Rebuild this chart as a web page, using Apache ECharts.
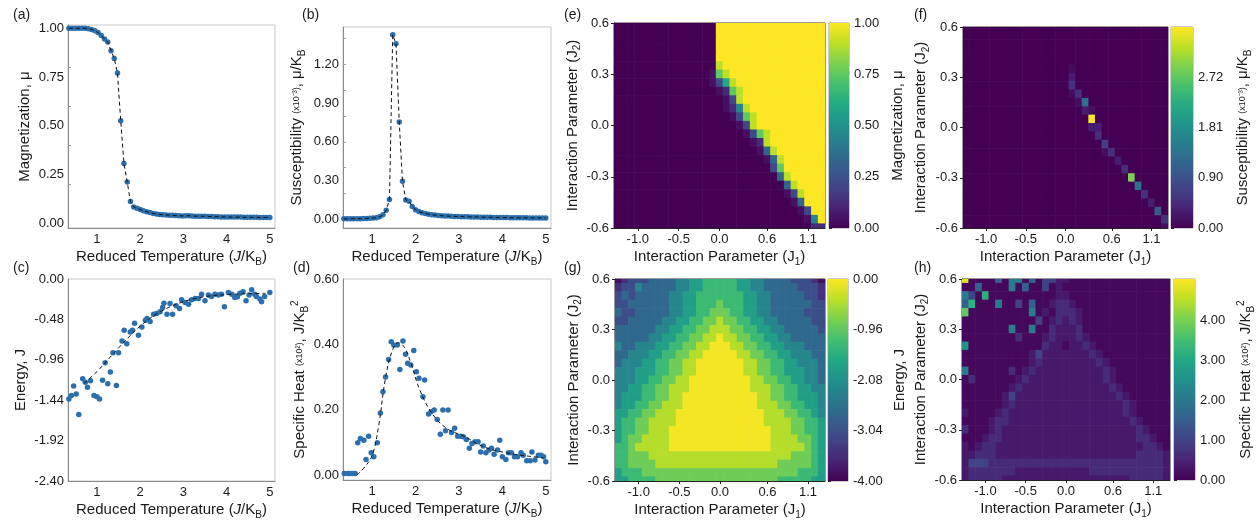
<!DOCTYPE html>
<html>
<head>
<meta charset="utf-8">
<title>Frustrated Ising model: temperature sweeps and (J1, J2) maps</title>
<script src="https://cdn.jsdelivr.net/npm/echarts@6.0.0/dist/echarts.min.js"></script>
<style>
  html, body { margin: 0; padding: 0; background: #ffffff; }
  #chart { width: 1257px; height: 525px; }
</style>
</head>
<body>
<div id="chart"></div>
<script>
// ---------- temperature sweeps, panels (a)-(d) ----------
const temperature = [0.35, 0.425, 0.5, 0.575, 0.65, 0.725, 0.8, 0.875, 0.95, 1.025, 1.1, 1.175, 1.25, 1.325, 1.4, 1.475, 1.55, 1.625, 1.7, 1.775, 1.85, 1.925, 2.0, 2.075, 2.15, 2.225, 2.3, 2.375, 2.45, 2.525, 2.6, 2.675, 2.75, 2.825, 2.9, 2.975, 3.05, 3.125, 3.2, 3.275, 3.35, 3.425, 3.5, 3.575, 3.65, 3.725, 3.8, 3.875, 3.95, 4.025, 4.1, 4.175, 4.25, 4.325, 4.4, 4.475, 4.55, 4.625, 4.7, 4.775, 4.85, 4.925, 5.0];
const magnetization = [1.0, 1.0, 1.0, 1.0, 1.0, 1.0, 0.998, 0.994, 0.988, 0.978, 0.963, 0.945, 0.93, 0.885, 0.845, 0.77, 0.525, 0.305, 0.21, 0.11, 0.082, 0.075, 0.069, 0.063, 0.058, 0.053, 0.049, 0.046, 0.044, 0.042, 0.041, 0.04, 0.039, 0.038, 0.037, 0.036, 0.037, 0.037, 0.036, 0.035, 0.035, 0.034, 0.034, 0.033, 0.033, 0.032, 0.032, 0.031, 0.031, 0.031, 0.03, 0.03, 0.03, 0.03, 0.029, 0.029, 0.029, 0.029, 0.029, 0.028, 0.028, 0.028, 0.028];
const susceptibility = [0.004, 0.004, 0.004, 0.005, 0.005, 0.005, 0.006, 0.007, 0.008, 0.01, 0.013, 0.02, 0.035, 0.07, 0.153, 1.43, 1.36, 0.755, 0.295, 0.15, 0.14, 0.1, 0.075, 0.06, 0.052, 0.046, 0.04, 0.036, 0.033, 0.03, 0.028, 0.026, 0.025, 0.024, 0.023, 0.022, 0.021, 0.02, 0.02, 0.019, 0.018, 0.018, 0.017, 0.017, 0.016, 0.016, 0.015, 0.015, 0.015, 0.014, 0.014, 0.013, 0.013, 0.013, 0.012, 0.012, 0.012, 0.011, 0.011, 0.011, 0.011, 0.01, 0.01];

const energyT = [0.35, 0.41, 0.46, 0.52, 0.58, 0.67, 0.73, 0.78, 0.85, 0.93, 1.0, 1.06, 1.13, 1.19, 1.25, 1.31, 1.37, 1.45, 1.5, 1.58, 1.63, 1.69, 1.77, 1.82, 1.87, 1.96, 2.04, 2.12, 2.16, 2.23, 2.31, 2.38, 2.46, 2.52, 2.55, 2.62, 2.69, 2.75, 2.83, 2.91, 2.96, 3.04, 3.12, 3.19, 3.27, 3.35, 3.42, 3.5, 3.58, 3.65, 3.73, 3.81, 3.88, 3.95, 4.04, 4.12, 4.19, 4.25, 4.31, 4.38, 4.45, 4.52, 4.58, 4.65, 4.69, 4.77, 4.81, 4.88, 5.0];
const energy = [-1.425, -1.385, -1.27, -1.365, -1.61, -1.186, -1.226, -1.285, -1.21, -1.385, -1.4, -1.425, -1.202, -0.995, -1.246, -1.106, -0.876, -1.265, -0.876, -0.736, -0.609, -0.768, -0.629, -0.61, -0.525, -0.669, -0.569, -0.49, -0.47, -0.505, -0.418, -0.41, -0.39, -0.338, -0.287, -0.418, -0.29, -0.418, -0.318, -0.35, -0.247, -0.279, -0.3, -0.247, -0.231, -0.231, -0.18, -0.259, -0.19, -0.207, -0.18, -0.19, -0.18, -0.33, -0.16, -0.18, -0.22, -0.21, -0.17, -0.15, -0.259, -0.19, -0.127, -0.18, -0.207, -0.239, -0.27, -0.207, -0.16];
const energyFitT = [0.7, 1.0, 1.5, 2.0, 2.5, 3.0, 3.5, 4.0, 4.5, 4.9];
const energyFit = [-1.24, -1.1, -0.82, -0.56, -0.38, -0.27, -0.21, -0.185, -0.175, -0.17];

const heatT = [0.36, 0.44, 0.5, 0.55, 0.61, 0.67, 0.73, 0.81, 0.86, 0.92, 0.98, 1.04, 1.12, 1.19, 1.25, 1.31, 1.38, 1.44, 1.5, 1.58, 1.64, 1.71, 1.77, 1.82, 1.89, 1.96, 2.02, 2.08, 2.17, 2.21, 2.3, 2.36, 2.43, 2.5, 2.57, 2.63, 2.69, 2.75, 2.83, 2.9, 2.97, 3.04, 3.1, 3.17, 3.24, 3.3, 3.37, 3.44, 3.5, 3.56, 3.62, 3.69, 3.75, 3.81, 3.89, 3.94, 4.0, 4.08, 4.14, 4.21, 4.28, 4.35, 4.43, 4.48, 4.56, 4.64, 4.68, 4.75, 4.83, 4.89, 4.95, 5.0];
const heat = [0.005, 0.005, 0.005, 0.005, 0.005, 0.099, 0.112, 0.107, 0.048, 0.119, 0.068, 0.056, 0.099, 0.19, 0.255, 0.3, 0.354, 0.408, 0.398, 0.398, 0.323, 0.41, 0.37, 0.342, 0.337, 0.381, 0.316, 0.296, 0.24, 0.291, 0.187, 0.194, 0.199, 0.17, 0.125, 0.199, 0.136, 0.199, 0.13, 0.143, 0.119, 0.119, 0.117, 0.109, 0.082, 0.097, 0.102, 0.102, 0.071, 0.089, 0.068, 0.077, 0.082, 0.064, 0.077, 0.107, 0.056, 0.048, 0.068, 0.068, 0.056, 0.056, 0.068, 0.061, 0.044, 0.044, 0.071, 0.046, 0.061, 0.061, 0.056, 0.041];
const heatFitT = [0.65, 0.8, 1.0, 1.15, 1.3, 1.45, 1.6, 1.75, 1.9, 2.1, 2.4, 2.75, 3.1, 3.6, 4.1, 4.6, 4.95];
const heatFit = [0.0, 0.02, 0.06, 0.15, 0.29, 0.375, 0.405, 0.39, 0.34, 0.26, 0.185, 0.14, 0.12, 0.085, 0.068, 0.058, 0.053];

const tempTicks = [1, 2, 3, 4, 5];
const magTicks = [0, 0.25, 0.5, 0.75, 1];
const magMarks = [0.2, 0.4, 0.6, 0.8];
const susTicks = [0, 0.3, 0.6, 0.9, 1.2];
const susMarks = [0.2, 0.4, 0.6, 0.8, 1.0, 1.2, 1.4];
const energyTicks = [-2.4, -1.92, -1.44, -0.96, -0.48, 0];
const heatTicks = [0, 0.2, 0.4, 0.6];

// ---------- (J1, J2) maps, panels (e)-(h) ----------
const j1ColumnCount = 31;
const j1TickCols = [3, 9, 15, 22, 28];
const j1TickText = ['-1.0', '-0.5', '0.0', '0.6', '1.1'];
const j2Values = [0.6, 0.55, 0.5, 0.45, 0.4, 0.35, 0.3, 0.25, 0.2, 0.15, 0.1, 0.05, 0.0, -0.05, -0.1, -0.15, -0.2, -0.25, -0.3, -0.35, -0.4, -0.45, -0.5, -0.55, -0.6];
const j2Ticks = [-0.6, -0.3, 0, 0.3, 0.6];

// each map row runs J1 left to right; rows run J2 from 0.6 down to -0.6; digits index the level list
const magnetizationLevels = [0, 0.04, 0.12, 0.22, 0.32, 0.45, 0.6, 0.75, 0.9, 1.0];
const magnetizationMap = [
  '0000000000 0000099999 99999999999',
  '0000000000 0000099999 99999999999',
  '0000000000 0000099999 99999999999',
  '0000000000 0000099999 99999999999',
  '0000000000 0000099999 99999999999',
  '0000000000 0000089999 99999999999',
  '0000000000 0000178999 99999999999',
  '0000000000 0000136899 99999999999',
  '0000000000 0000012789 99999999999',
  '0000000000 0000001389 99999999999',
  '0000000000 0000001258 99999999999',
  '0000000000 0000000137 89999999999',
  '0000000000 0000000013 89999999999',
  '0000000000 0000000001 37899999999',
  '0000000000 0000000000 12899999999',
  '0000000000 0000000000 01489999999',
  '0000000000 0000000000 00148999999',
  '0000000000 0000000000 00037999999',
  '0000000000 0000000000 00004899999',
  '0000000000 0000000000 00000489999',
  '0000000000 0000000000 00000138999',
  '0000000000 0000000000 00000014999',
  '0000000000 0000000000 00000001399',
  '0000000000 0000000000 00000000159',
  '0000000000 0000000000 00000000022'
];

// susceptibility map: flat background plus the cells along the phase boundary [column, row, value]
const susceptibilityBackground = 0;
const susceptibilityCells = [
  [16, 5, 0.12], [16, 6, 0.3], [16, 7, 0.5], [16, 8, 0.12], [17, 8, 0.5], [17, 9, 0.12],
  [18, 9, 1.35], [18, 10, 0.3], [19, 10, 0.12], [19, 11, 3.6], [19, 12, 0.3], [20, 12, 0.3],
  [20, 13, 0.5], [21, 14, 0.7], [21, 15, 0.12], [22, 15, 0.5], [23, 16, 0.3], [24, 17, 0.5],
  [25, 18, 2.9], [26, 19, 1.35], [27, 20, 0.5], [28, 21, 0.3], [29, 22, 1.0], [30, 23, 0.5],
  [30, 24, 0.12]
];

const energyLevels = [-3.85, -3.45, -3.05, -2.65, -2.2, -1.75, -1.3, -0.88, -0.45, -0.05];
const energyMap = [
  '0122233334 4556666655 44333322210',
  '1224333334 4556666655 44333332221',
  '2323333344 5566666665 54433333221',
  '2233333344 5566676665 54433333322',
  '3223333344 5566777665 54433333222',
  '2233333445 5667787766 55443333322',
  '3333334455 6677888776 65544333332',
  '3333344556 6778898877 66554433333',
  '4334445566 7788999887 76655444333',
  '3344455667 7889999988 77665544433',
  '3444556677 8899999998 87766554443',
  '4445556677 8899999998 87766555443',
  '4445566778 8999999999 88776655443',
  '4455667788 8999999999 88877665544',
  '4555667788 9999999999 98877665554',
  '4556677888 9999999999 98887766554',
  '5566778889 9999999999 99888776654',
  '5667788889 9999999999 99888877665',
  '5667788899 9999999999 99988877665',
  '5677888899 9999999999 99988887765',
  '6678888899 9999999999 99988888765',
  '6677788888 8888888888 88888877765',
  '6677778888 8888888888 88887777765',
  '5666777777 7777777777 77777776665',
  '5566667777 7777777777 77776666655'
];

const heatLevels = [0.1, 0.35, 0.62, 1.0, 1.6, 2.1, 2.6, 3.2, 3.8, 4.8];
const heatMap = [
  '9000040550 4033110000 00000000000',
  '0040000504 0030100000 00000000000',
  '5307000000 0000110000 00000000000',
  '4700050030 4001221000 00000000000',
  '8000000000 5010222100 00000000000',
  '0000000000 0301212100 00000000000',
  '0000000500 5002111200 00000000000',
  '0000000020 0012111210 00000000000',
  '6000000000 0021101121 00000000000',
  '0000000000 1311111112 10000000000',
  '0000000000 1211111111 21000000000',
  '5000000201 2111111111 12100000000',
  '0200000012 1111111111 12100000000',
  '0000000121 1111111111 11210000000',
  '0000001311 1111111111 11121000000',
  '0000001211 1111111111 11112100000',
  '1000012111 1111111111 11112100000',
  '0000122111 1111111111 11111210000',
  '2000121111 1111111111 11111121000',
  '0001221111 1111111111 11111122100',
  '1012211111 1111111111 11111112210',
  '1122211111 1111111111 11111122221',
  '1333222222 2222222222 22222222221',
  '1222222211 1111111112 22222222221',
  '1222221111 1111111111 11111222221'
];

// colour-bar ranges and their printed tick labels
const magRange = [0, 1];
const magBarTicks = [0, 0.25, 0.5, 0.75, 1];
const magBarText = ['0.00', '0.25', '0.50', '0.75', '1.00'];
const susRange = [0, 3.62];
const susBarTicks = [0, 0.905, 1.81, 2.715];
const susBarText = ['0.00', '0.90', '1.81', '2.72'];
const energyRange = [-4, 0];
const energyBarTicks = [-4, -3, -2, -1, 0];
const energyBarText = ['-4.00', '-3.04', '-2.08', '-0.96', '0.00'];
const heatRange = [0, 5.05];
const heatBarTicks = [0, 1, 2, 3, 4];
const heatBarText = ['0.00', '1.00', '2.00', '3.00', '4.00'];

// ---------- helpers ----------
const FONT = '"Liberation Sans", Arial, Helvetica, sans-serif';
const INK = '#1a1a1a';
const VIRIDIS = ['#440154', '#482475', '#414487', '#355f8d', '#2a788e', '#21918c', '#22a884', '#44bf70', '#7ad151', '#bddf26', '#fde725'];
const DOT = '#2b6fae';

function pairs(xs, ys) { return xs.map((x, i) => [x, ys[i]]); }

function decodeMap(rows, levels) {
  const out = [];
  rows.forEach((row, r) => {
    const cells = row.replace(/\s/g, '');
    for (let c = 0; c < cells.length; c++) out.push([c, j2Values[r], levels[+cells[c]]]);
  });
  return out;
}

function sparseMap(background, cells) {
  const out = [];
  j2Values.forEach(j2 => { for (let c = 0; c < j1ColumnCount; c++) out.push([c, j2, background]); });
  cells.forEach(([c, r, v]) => { out[r * j1ColumnCount + c][2] = v; });
  return out;
}

function lookup(ticks, texts) {
  return v => {
    const i = ticks.findIndex(t => Math.abs(t - v) < 1e-9);
    return i < 0 ? '' : texts[i];
  };
}

const rowStep = Math.abs(j2Values[0] - j2Values[1]);

function renderCell(params, api) {
  const c = api.coord([api.value(0), api.value(1)]);
  const s = api.size([1, rowStep]);
  const rect = echarts.graphic.clipRectByRect({
    x: c[0] - s[0] / 2 - 0.3, y: c[1] - s[1] / 2 - 0.3, width: s[0] + 0.6, height: s[1] + 0.6
  }, params.coordSys);
  return rect && { type: 'rect', shape: rect, style: { fill: api.visual('color') } };
}

function renderColorbar(params, api) {
  const p0 = api.coord([0, api.value(2)]);
  const p1 = api.coord([1, api.value(1)]);
  return {
    type: 'rect',
    shape: { x: p0[0], y: p0[1], width: p1[0] - p0[0], height: p1[1] - p0[1] },
    style: {
      fill: new echarts.graphic.LinearGradient(0, 1, 0, 0,
        VIRIDIS.map((col, i) => ({ offset: i / (VIRIDIS.length - 1), color: col })))
    }
  };
}

const rich = {
  i: { fontFamily: FONT, fontSize: 15, fontStyle: 'italic', color: INK },
  sub: { fontFamily: FONT, fontSize: 10, color: INK, verticalAlign: 'bottom', lineHeight: 11 },
  sup: { fontFamily: FONT, fontSize: 10, color: INK, verticalAlign: 'top', lineHeight: 11 },
  s: { fontFamily: FONT, fontSize: 9, color: INK }
};
const nameStyle = { fontFamily: FONT, fontSize: 15, color: INK, lineHeight: 20, rich };
const tickText = { fontFamily: FONT, fontSize: 13, color: INK };

function tempXAxis(g) {
  return {
    gridIndex: g, type: 'value', min: 0.33, max: 5.12,
    axisLine: { show: true, onZero: false, lineStyle: { color: '#8a8a8a' } },
    axisTick: { show: false },
    axisLabel: Object.assign({ customValues: tempTicks, formatter: v => String(v), margin: 5 }, tickText),
    splitLine: { show: false },
    name: 'Reduced Temperature ({i|J}/K{sub|B})', nameLocation: 'middle', nameGap: 17, nameTextStyle: nameStyle
  };
}

function sweepYAxis(g, range, ticks, marks, name, gap) {
  return {
    gridIndex: g, type: 'value', min: range[0], max: range[1],
    axisLine: { show: true, onZero: false, lineStyle: { color: '#8a8a8a' } },
    axisTick: marks.length ? { show: true, inside: true, length: 3, customValues: marks, lineStyle: { color: '#9a9a9a' } } : { show: false },
    axisLabel: Object.assign({ customValues: ticks, formatter: v => v.toFixed(2), margin: 4 }, tickText),
    splitLine: { show: false },
    name, nameLocation: 'middle', nameRotate: 90, nameGap: gap, nameTextStyle: nameStyle
  };
}

function j1Axis(g, gap) {
  return {
    gridIndex: g, type: 'value', min: -0.5, max: j1ColumnCount - 0.5,
    axisLine: { show: true, onZero: false, lineStyle: { color: '#222' } },
    axisTick: { show: true, length: 3, customValues: j1TickCols, lineStyle: { color: '#222' } },
    axisLabel: Object.assign({ customValues: j1TickCols, formatter: lookup(j1TickCols, j1TickText), margin: 5 }, tickText),
    splitLine: { show: false },
    name: 'Interaction Parameter (J{sub|1})', nameLocation: 'middle', nameGap: gap, nameTextStyle: nameStyle
  };
}

function j2Axis(g, gap) {
  return {
    gridIndex: g, type: 'value', min: -0.6, max: 0.6,
    axisLine: { show: true, onZero: false, lineStyle: { color: '#222' } },
    axisTick: { show: true, length: 3, customValues: j2Ticks, lineStyle: { color: '#222' } },
    axisLabel: Object.assign({ customValues: j2Ticks, formatter: v => (Math.abs(v) < 1e-9 ? 0 : v).toFixed(1), margin: 5 }, tickText),
    splitLine: { show: false },
    name: 'Interaction Parameter (J{sub|2})', nameLocation: 'middle', nameRotate: 90, nameGap: gap, nameTextStyle: nameStyle
  };
}

function barXAxis(g) {
  return { gridIndex: g, type: 'value', min: 0, max: 1, show: false };
}

function barYAxis(g, range, ticks, texts, name, gap) {
  return {
    gridIndex: g, type: 'value', position: 'right', min: range[0], max: range[1],
    axisLine: { show: false },
    axisTick: { show: true, length: 3, customValues: ticks, lineStyle: { color: '#222' } },
    axisLabel: Object.assign({ customValues: ticks, formatter: lookup(ticks, texts), margin: 5 }, tickText),
    splitLine: { show: false },
    name, nameLocation: 'middle', nameRotate: 90, nameGap: gap, nameTextStyle: nameStyle
  };
}

const sweepGrid = { show: true, borderColor: '#c8c8c8', borderWidth: 1, backgroundColor: 'transparent' };
const mapGrid = { show: true, borderColor: '#333', borderWidth: 1, backgroundColor: 'transparent' };
const barGrid = { show: true, borderColor: '#9a9a9a', borderWidth: 1, backgroundColor: 'transparent' };

const dashed = { color: '#111', width: 1, type: [4, 3] };
const dots = { color: DOT, opacity: 1 };

const option = {
  animation: false,
  backgroundColor: '#ffffff',
  grid: [
    Object.assign({ left: 68, top: 25, width: 207, height: 203 }, sweepGrid),   // a
    Object.assign({ left: 343, top: 27, width: 208, height: 201 }, sweepGrid),  // b
    Object.assign({ left: 68, top: 279, width: 207, height: 202 }, sweepGrid),  // c
    Object.assign({ left: 343, top: 279, width: 208, height: 201 }, sweepGrid), // d
    Object.assign({ left: 614, top: 23, width: 211, height: 205 }, mapGrid),    // e
    Object.assign({ left: 963, top: 27, width: 205, height: 201 }, mapGrid),    // f
    Object.assign({ left: 615, top: 279, width: 210, height: 202 }, mapGrid),   // g
    Object.assign({ left: 962, top: 279, width: 208, height: 201 }, mapGrid),   // h
    Object.assign({ left: 829, top: 23, width: 20, height: 205 }, barGrid),     // e colour bar
    Object.assign({ left: 1171, top: 27, width: 22, height: 201 }, barGrid),    // f colour bar
    Object.assign({ left: 828, top: 279, width: 20, height: 202 }, barGrid),    // g colour bar
    Object.assign({ left: 1174, top: 279, width: 21, height: 201 }, barGrid)    // h colour bar
  ],
  xAxis: [
    tempXAxis(0), tempXAxis(1), tempXAxis(2), tempXAxis(3),
    j1Axis(4, 10), j1Axis(5, 10), j1Axis(6, 19), j1Axis(7, 19),
    barXAxis(8), barXAxis(9), barXAxis(10), barXAxis(11)
  ],
  yAxis: [
    sweepYAxis(0, [-0.026, 1.017], magTicks, magMarks, 'Magnetization, \u03bc', 33),
    sweepYAxis(1, [-0.067, 1.49], susTicks, susMarks, 'Susceptibility {s|(x10\u207b\u00b3)}, \u03bc/K{sub|B}', 36),
    sweepYAxis(2, [-2.4, 0], energyTicks, [], 'Energy, J', 37),
    sweepYAxis(3, [-0.015, 0.6], heatTicks, [], 'Specific Heat {s|(x10\u00b2)}, J/K{sub|B}{sup|2}', 33),
    j2Axis(4, 28), j2Axis(5, 32), j2Axis(6, 30), j2Axis(7, 27),
    barYAxis(8, magRange, magBarTicks, magBarText, 'Magnetization, \u03bc', 39),
    barYAxis(9, susRange, susBarTicks, susBarText, 'Susceptibility {s|(x10\u207b\u00b3)}, \u03bc/K{sub|B}', 40),
    barYAxis(10, energyRange, energyBarTicks, energyBarText, 'Energy, J', 42),
    barYAxis(11, heatRange, heatBarTicks, heatBarText, 'Specific Heat {s|(x10\u00b2)}, J/K{sub|B}{sup|2}', 41)
  ],
  visualMap: [
    { type: 'continuous', show: false, seriesIndex: 8, dimension: 2, min: magRange[0], max: magRange[1], inRange: { color: VIRIDIS } },
    { type: 'continuous', show: false, seriesIndex: 9, dimension: 2, min: susRange[0], max: susRange[1], inRange: { color: VIRIDIS } },
    { type: 'continuous', show: false, seriesIndex: 10, dimension: 2, min: energyRange[0], max: energyRange[1], inRange: { color: VIRIDIS } },
    { type: 'continuous', show: false, seriesIndex: 11, dimension: 2, min: heatRange[0], max: heatRange[1], inRange: { color: VIRIDIS } }
  ],
  series: [
    { type: 'scatter', xAxisIndex: 0, yAxisIndex: 0, data: pairs(temperature, magnetization), symbolSize: 5.5, itemStyle: dots, z: 2 },
    { type: 'line', xAxisIndex: 0, yAxisIndex: 0, data: pairs(temperature, magnetization), showSymbol: false, lineStyle: dashed, z: 3 },
    { type: 'scatter', xAxisIndex: 1, yAxisIndex: 1, data: pairs(temperature, susceptibility), symbolSize: 5.5, itemStyle: dots, z: 2 },
    { type: 'line', xAxisIndex: 1, yAxisIndex: 1, data: pairs(temperature, susceptibility), showSymbol: false, lineStyle: dashed, z: 3 },
    { type: 'scatter', xAxisIndex: 2, yAxisIndex: 2, data: pairs(energyT, energy), symbolSize: 5.5, itemStyle: dots, z: 2 },
    { type: 'line', xAxisIndex: 2, yAxisIndex: 2, data: pairs(energyFitT, energyFit), smooth: 0.4, showSymbol: false, lineStyle: dashed, z: 3 },
    { type: 'scatter', xAxisIndex: 3, yAxisIndex: 3, data: pairs(heatT, heat), symbolSize: 5.5, itemStyle: dots, z: 2 },
    { type: 'line', xAxisIndex: 3, yAxisIndex: 3, data: pairs(heatFitT, heatFit), smooth: 0.4, showSymbol: false, lineStyle: dashed, z: 3 },
    { type: 'custom', xAxisIndex: 4, yAxisIndex: 4, encode: { x: 0, y: 1 }, data: decodeMap(magnetizationMap, magnetizationLevels), renderItem: renderCell },
    { type: 'custom', xAxisIndex: 5, yAxisIndex: 5, encode: { x: 0, y: 1 }, data: sparseMap(susceptibilityBackground, susceptibilityCells), renderItem: renderCell },
    { type: 'custom', xAxisIndex: 6, yAxisIndex: 6, encode: { x: 0, y: 1 }, data: decodeMap(energyMap, energyLevels), renderItem: renderCell },
    { type: 'custom', xAxisIndex: 7, yAxisIndex: 7, encode: { x: 0, y: 1 }, data: decodeMap(heatMap, heatLevels), renderItem: renderCell },
    { type: 'custom', xAxisIndex: 8, yAxisIndex: 8, encode: { x: 0, y: 1 }, data: [[0, magRange[0], magRange[1]]], renderItem: renderColorbar },
    { type: 'custom', xAxisIndex: 9, yAxisIndex: 9, encode: { x: 0, y: 1 }, data: [[0, susRange[0], susRange[1]]], renderItem: renderColorbar },
    { type: 'custom', xAxisIndex: 10, yAxisIndex: 10, encode: { x: 0, y: 1 }, data: [[0, energyRange[0], energyRange[1]]], renderItem: renderColorbar },
    { type: 'custom', xAxisIndex: 11, yAxisIndex: 11, encode: { x: 0, y: 1 }, data: [[0, heatRange[0], heatRange[1]]], renderItem: renderColorbar }
  ],
  graphic: [
    { type: 'text', left: 13, top: 8, style: { text: '(a)', font: '14px ' + FONT, fill: INK } },
    { type: 'text', left: 302, top: 8, style: { text: '(b)', font: '14px ' + FONT, fill: INK } },
    { type: 'text', left: 13, top: 261, style: { text: '(c)', font: '14px ' + FONT, fill: INK } },
    { type: 'text', left: 293, top: 261, style: { text: '(d)', font: '14px ' + FONT, fill: INK } },
    { type: 'text', left: 564, top: 8, style: { text: '(e)', font: '14px ' + FONT, fill: INK } },
    { type: 'text', left: 914, top: 8, style: { text: '(f)', font: '14px ' + FONT, fill: INK } },
    { type: 'text', left: 564, top: 261, style: { text: '(g)', font: '14px ' + FONT, fill: INK } },
    { type: 'text', left: 914, top: 261, style: { text: '(h)', font: '14px ' + FONT, fill: INK } }
  ]
};

const chart = echarts.init(document.getElementById('chart'), null, { renderer: 'canvas' });
chart.setOption(option);
</script>
</body>
</html>
